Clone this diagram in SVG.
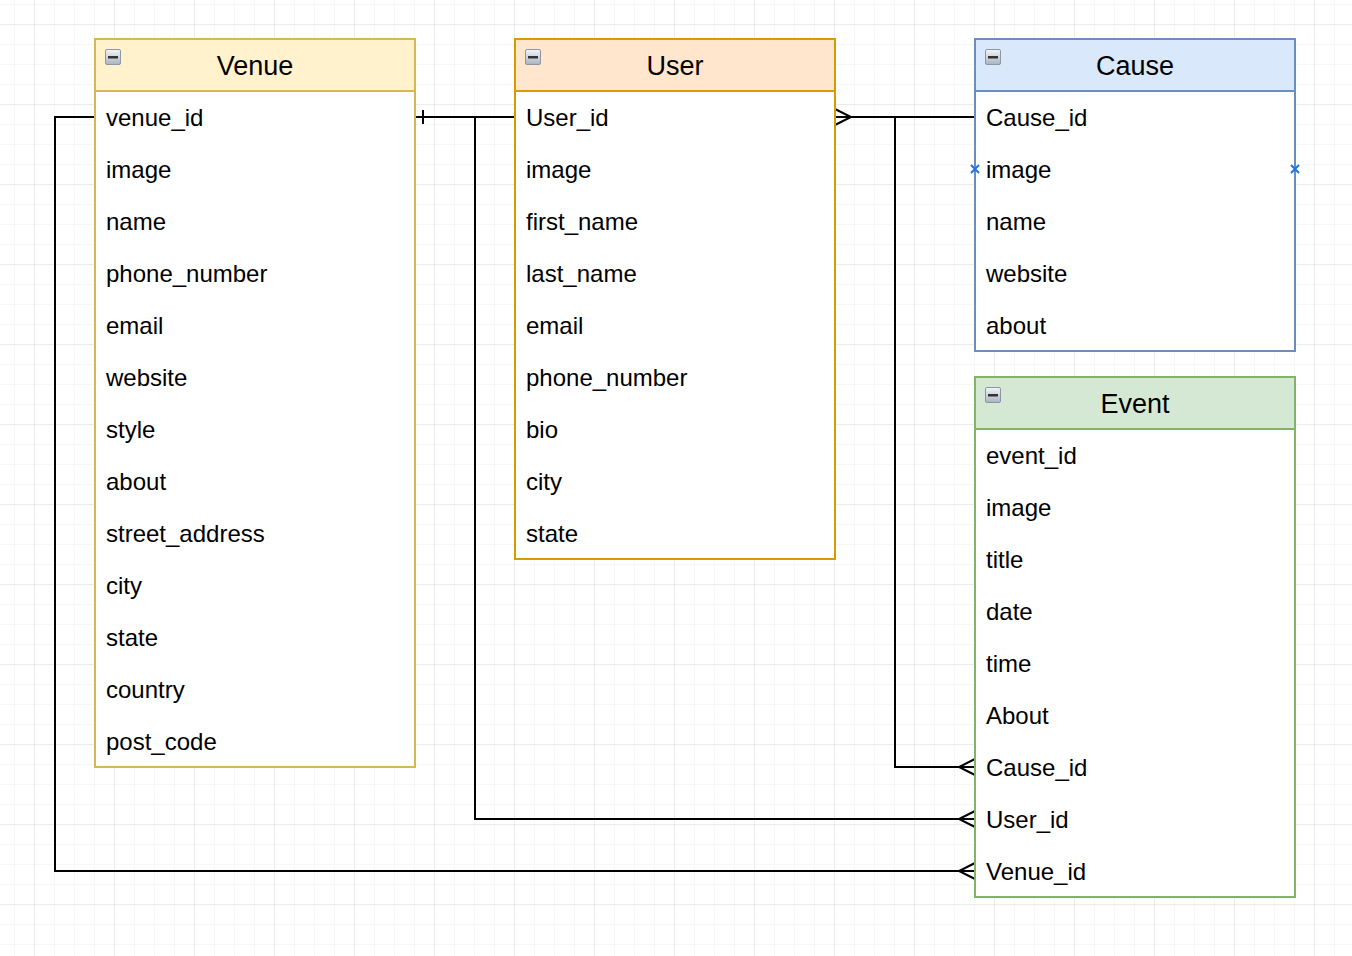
<svg xmlns="http://www.w3.org/2000/svg" width="1352" height="956" viewBox="0 0 1352 956">
<defs>
<pattern id="minor" x="14" y="4" width="20" height="20" patternUnits="userSpaceOnUse">
<path d="M0 0H20M0 0V20" fill="none" stroke="#f0f0f0" stroke-width="1"/>
</pattern>
<pattern id="major" x="34" y="24" width="80" height="80" patternUnits="userSpaceOnUse">
<path d="M0 0H80M0 0V80" fill="none" stroke="#e2e2e2" stroke-width="1"/>
</pattern>
<linearGradient id="ig" x1="0" y1="0" x2="0" y2="1">
<stop offset="0" stop-color="#f4f6f8"/>
<stop offset="1" stop-color="#a9b4bf"/>
</linearGradient>
<g id="icon">
<rect x="0.5" y="0.5" width="15" height="15" rx="1.5" fill="url(#ig)" stroke="#8b97a3"/>
<rect x="3" y="7" width="10" height="2.5" fill="#333"/>
</g>
</defs>
<style>
.t{font-family:"Liberation Sans",Arial,sans-serif;font-size:27px;fill:#000;text-anchor:middle}
.r{font-family:"Liberation Sans",Arial,sans-serif;font-size:24px;fill:#000}
.c{fill:none;stroke:#000;stroke-width:2}
.body{fill:#fff;stroke-width:2}
.x{stroke:#1a73e8;stroke-width:2;fill:none}
</style>
<rect width="1352" height="956" fill="#fff"/>
<rect width="1352" height="956" fill="url(#minor)"/>
<rect width="1352" height="956" fill="url(#major)"/>

<g id="connectors">
<path class="c" d="M415 117H515"/>
<path class="c" d="M423 110V124"/>
<path class="c" d="M515 117H475V819H975"/>
<path class="c" d="M975 811L959 819L975 827"/>
<path class="c" d="M95 117H55V871H975"/>
<path class="c" d="M975 863L959 871L975 879"/>
<path class="c" d="M835 117H975"/>
<path class="c" d="M835 109L851 117L835 125"/>
<path class="c" d="M895 117V767H975"/>
<path class="c" d="M975 759L959 767L975 775"/>
</g>

<g id="venue">
<rect class="body" x="95" y="39" width="320" height="728" stroke="#d6b656"/>
<rect x="95" y="39" width="320" height="52" fill="#fff2cc" stroke="#d6b656" stroke-width="2"/>
<use href="#icon" x="105" y="49"/>
<text class="t" x="255" y="75">Venue</text>
<text class="r" x="106" y="126">venue_id</text>
<text class="r" x="106" y="178">image</text>
<text class="r" x="106" y="230">name</text>
<text class="r" x="106" y="282">phone_number</text>
<text class="r" x="106" y="334">email</text>
<text class="r" x="106" y="386">website</text>
<text class="r" x="106" y="438">style</text>
<text class="r" x="106" y="490">about</text>
<text class="r" x="106" y="542">street_address</text>
<text class="r" x="106" y="594">city</text>
<text class="r" x="106" y="646">state</text>
<text class="r" x="106" y="698">country</text>
<text class="r" x="106" y="750">post_code</text>
</g>

<g id="user">
<rect class="body" x="515" y="39" width="320" height="520" stroke="#d79b00"/>
<rect x="515" y="39" width="320" height="52" fill="#ffe6cc" stroke="#d79b00" stroke-width="2"/>
<use href="#icon" x="525" y="49"/>
<text class="t" x="675" y="75">User</text>
<text class="r" x="526" y="126">User_id</text>
<text class="r" x="526" y="178">image</text>
<text class="r" x="526" y="230">first_name</text>
<text class="r" x="526" y="282">last_name</text>
<text class="r" x="526" y="334">email</text>
<text class="r" x="526" y="386">phone_number</text>
<text class="r" x="526" y="438">bio</text>
<text class="r" x="526" y="490">city</text>
<text class="r" x="526" y="542">state</text>
</g>

<g id="cause">
<rect class="body" x="975" y="39" width="320" height="312" stroke="#6c8ebf"/>
<rect x="975" y="39" width="320" height="52" fill="#dae8fc" stroke="#6c8ebf" stroke-width="2"/>
<use href="#icon" x="985" y="49"/>
<text class="t" x="1135" y="75">Cause</text>
<text class="r" x="986" y="126">Cause_id</text>
<text class="r" x="986" y="178">image</text>
<text class="r" x="986" y="230">name</text>
<text class="r" x="986" y="282">website</text>
<text class="r" x="986" y="334">about</text>
<path class="x" d="M971 165L979 173M979 165L971 173"/>
<path class="x" d="M1291 165L1299 173M1299 165L1291 173"/>
</g>

<g id="event">
<rect class="body" x="975" y="377" width="320" height="520" stroke="#82b366"/>
<rect x="975" y="377" width="320" height="52" fill="#d5e8d4" stroke="#82b366" stroke-width="2"/>
<use href="#icon" x="985" y="387"/>
<text class="t" x="1135" y="413">Event</text>
<text class="r" x="986" y="464">event_id</text>
<text class="r" x="986" y="516">image</text>
<text class="r" x="986" y="568">title</text>
<text class="r" x="986" y="620">date</text>
<text class="r" x="986" y="672">time</text>
<text class="r" x="986" y="724">About</text>
<text class="r" x="986" y="776">Cause_id</text>
<text class="r" x="986" y="828">User_id</text>
<text class="r" x="986" y="880">Venue_id</text>
</g>
</svg>
